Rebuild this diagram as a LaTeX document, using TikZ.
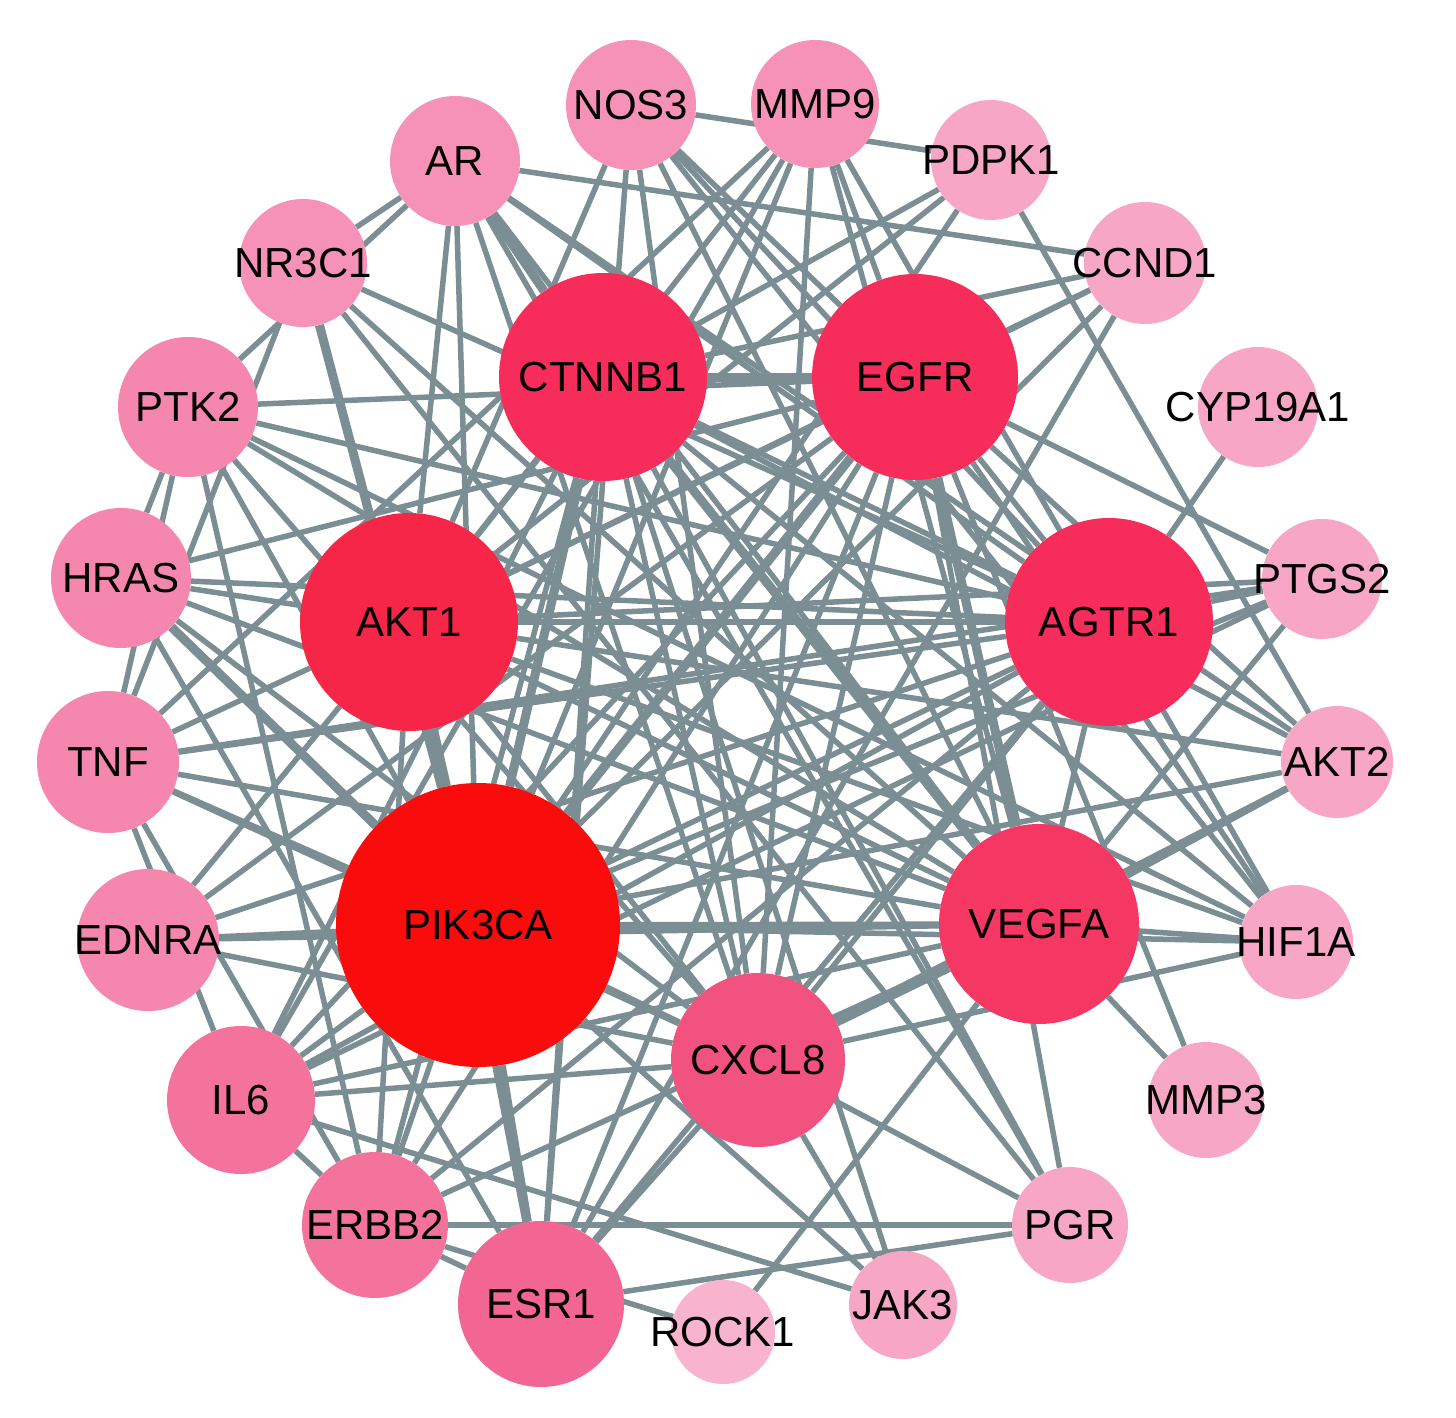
\documentclass[tikz,border=0pt]{standalone}
\usepackage{fontspec}
\setmainfont{Liberation Sans}
\pgfdeclarelayer{bg}
\pgfsetlayers{bg,main}
\definecolor{edgecol}{RGB}{123,142,147}
\definecolor{cPIK}{RGB}{250,12,12}
\definecolor{cAKT}{RGB}{246,38,72}
\definecolor{cIN}{RGB}{246,45,90}
\definecolor{cVEG}{RGB}{245,55,100}
\definecolor{cCXC}{RGB}{242,82,127}
\definecolor{cESR}{RGB}{243,102,147}
\definecolor{cMID}{RGB}{244,115,157}
\definecolor{cHR}{RGB}{245,135,175}
\definecolor{cNR}{RGB}{246,146,183}
\definecolor{cLT}{RGB}{247,166,197}
\definecolor{cRO}{RGB}{248,180,207}
\tikzset{
  gnode/.style={circle, inner sep=0pt, draw=none},
  lbl/.style={font=\fontsize{42}{42}\selectfont, text=black, inner sep=0pt},
  edge/.style={draw=edgecol, line width=5.5pt},
  boldedge/.style={draw=edgecol, line width=9pt}
}
\begin{document}
\begin{tikzpicture}[x=1pt,y=-1pt]
\useasboundingbox (0,0) rectangle (1456,1418);
% outer ring
\node[gnode, fill=cNR, minimum size=130pt, label={[lbl]center:NOS3}] (nos3) at (631,105) {};
\node[gnode, fill=cNR, minimum size=128pt, label={[lbl]center:MMP9}] (mmp9) at (815,104) {};
\node[gnode, fill=cLT, minimum size=120pt, label={[lbl]center:PDPK1}] (pdpk1) at (991,160) {};
\node[gnode, fill=cNR, minimum size=130pt, label={[lbl]center:AR}] (ar) at (455,161) {};
\node[gnode, fill=cLT, minimum size=122pt, label={[lbl]center:CCND1}] (ccnd1) at (1145,263) {};
\node[gnode, fill=cNR, minimum size=128pt, label={[lbl]center:NR3C1}] (nr3c1) at (303,263) {};
\node[gnode, fill=cLT, minimum size=120pt, label={[lbl]center:CYP19A1}] (cyp) at (1258,407) {};
\node[gnode, fill=cHR, minimum size=140pt, label={[lbl]center:PTK2}] (ptk2) at (188,407) {};
\node[gnode, fill=cLT, minimum size=120pt, label={[lbl]center:PTGS2}] (ptgs2) at (1322,579) {};
\node[gnode, fill=cHR, minimum size=140pt, label={[lbl]center:HRAS}] (hras) at (121,578) {};
\node[gnode, fill=cLT, minimum size=112pt, label={[lbl]center:AKT2}] (akt2) at (1337,762) {};
\node[gnode, fill=cHR, minimum size=142pt, label={[lbl]center:TNF}] (tnf) at (108,762) {};
\node[gnode, fill=cLT, minimum size=114pt, label={[lbl]center:HIF1A}] (hif1a) at (1296,942) {};
\node[gnode, fill=cHR, minimum size=142pt, label={[lbl]center:EDNRA}] (ednra) at (148,940) {};
\node[gnode, fill=cLT, minimum size=116pt, label={[lbl]center:MMP3}] (mmp3) at (1206,1100) {};
\node[gnode, fill=cMID, minimum size=148pt, label={[lbl]center:IL6}] (il6) at (241,1100) {};
\node[gnode, fill=cLT, minimum size=116pt, label={[lbl]center:PGR}] (pgr) at (1070,1225) {};
\node[gnode, fill=cMID, minimum size=146pt, label={[lbl]center:ERBB2}] (erbb2) at (375,1225) {};
\node[gnode, fill=cLT, minimum size=108pt, label={[lbl]center:JAK3}] (jak3) at (903,1305) {};
\node[gnode, fill=cRO, minimum size=104pt, label={[lbl]center:ROCK1}] (rock1) at (723,1332) {};
\node[gnode, fill=cESR, minimum size=166pt, label={[lbl]center:ESR1}] (esr1) at (541,1304) {};
% inner nodes
\node[gnode, fill=cIN, minimum size=208pt, label={[lbl]center:CTNNB1}] (ctnnb1) at (603,377) {};
\node[gnode, fill=cIN, minimum size=206pt, label={[lbl]center:EGFR}] (egfr) at (915,377) {};
\node[gnode, fill=cAKT, minimum size=218pt, label={[lbl]center:AKT1}] (akt1) at (409,622) {};
\node[gnode, fill=cIN, minimum size=208pt, label={[lbl]center:AGTR1}] (agtr1) at (1109,622) {};
\node[gnode, fill=cPIK, minimum size=284pt, label={[lbl]center:PIK3CA}] (pik3ca) at (478,925) {};
\node[gnode, fill=cVEG, minimum size=200pt, label={[lbl]center:VEGFA}] (vegfa) at (1039,924) {};
\node[gnode, fill=cCXC, minimum size=174pt, label={[lbl]center:CXCL8}] (cxcl8) at (758,1060) {};
\begin{pgfonlayer}{bg}
\fill[white] (0,0) rectangle (1456,1418);
\foreach \a/\b in {
 ctnnb1/akt1, ctnnb1/agtr1, ctnnb1/cxcl8,
 egfr/akt1, egfr/agtr1, egfr/cxcl8,
 akt1/agtr1, akt1/vegfa, akt1/cxcl8,
 pik3ca/agtr1, pik3ca/vegfa, pik3ca/cxcl8,
 agtr1/vegfa, agtr1/cxcl8,
 nos3/pdpk1, nos3/akt1, nos3/esr1, nos3/vegfa, nos3/hif1a, nos3/egfr,
 nos3/cxcl8, nos3/agtr1,
 mmp9/tnf, mmp9/il6, mmp9/cxcl8, mmp9/egfr, mmp9/vegfa, mmp9/hif1a,
 mmp9/pik3ca, mmp9/akt1,
 pdpk1/akt2, pdpk1/pik3ca, pdpk1/ctnnb1, pdpk1/akt1,
 ar/ccnd1, ar/nr3c1, ar/ptk2, ar/akt1, ar/pik3ca, ar/vegfa, ar/agtr1, ar/cxcl8,
 ccnd1/egfr, ccnd1/ctnnb1, ccnd1/akt1, ccnd1/esr1, ccnd1/pik3ca,
 cyp/agtr1,
 ptgs2/agtr1, ptgs2/pik3ca, ptgs2/il6, ptgs2/vegfa, ptgs2/tnf, ptgs2/egfr, ptgs2/akt1,
 akt2/pik3ca, akt2/akt1, akt2/ctnnb1, akt2/egfr, akt2/ar, akt2/cxcl8, akt2/vegfa,
 hif1a/vegfa, hif1a/egfr, hif1a/akt1, hif1a/ptk2, hif1a/pik3ca, hif1a/ctnnb1, hif1a/cxcl8,
 mmp3/vegfa, mmp3/egfr,
 pgr/erbb2, pgr/esr1, pgr/cxcl8, pgr/nr3c1, pgr/ar, pgr/ctnnb1, pgr/egfr,
 jak3/pik3ca, jak3/cxcl8, jak3/il6, jak3/ctnnb1,
 rock1/vegfa, rock1/erbb2,
 esr1/cxcl8, esr1/erbb2, esr1/agtr1, esr1/egfr, esr1/akt1, esr1/ctnnb1,
 erbb2/ptk2, erbb2/egfr, erbb2/vegfa, erbb2/il6, erbb2/pik3ca, erbb2/ctnnb1, erbb2/akt1,
 erbb2/agtr1,
 il6/tnf, il6/cxcl8, il6/vegfa, il6/pik3ca, il6/egfr, il6/agtr1, il6/ctnnb1,
 ednra/pik3ca, ednra/akt1, ednra/agtr1, ednra/egfr, ednra/vegfa, ednra/cxcl8,
 hras/ptk2, hras/egfr, hras/akt1, hras/cxcl8, hras/esr1, hras/agtr1, hras/vegfa,
 nr3c1/tnf, nr3c1/agtr1, nr3c1/vegfa,
 ptk2/egfr, ptk2/tnf, ptk2/pik3ca, ptk2/vegfa, ptk2/agtr1, ptk2/cxcl8,
 tnf/akt1, tnf/vegfa, tnf/pik3ca, tnf/erbb2, tnf/agtr1, tnf/cxcl8}
 \draw[edge] (\a) -- (\b);
\foreach \a/\b in {ctnnb1/egfr, ctnnb1/pik3ca, egfr/pik3ca, egfr/vegfa, akt1/pik3ca,
 vegfa/cxcl8, ar/ctnnb1, hras/pik3ca, nr3c1/pik3ca, esr1/pik3ca, ctnnb1/vegfa}
 \draw[boldedge] (\a) -- (\b);
\end{pgfonlayer}
\end{tikzpicture}
\end{document}
